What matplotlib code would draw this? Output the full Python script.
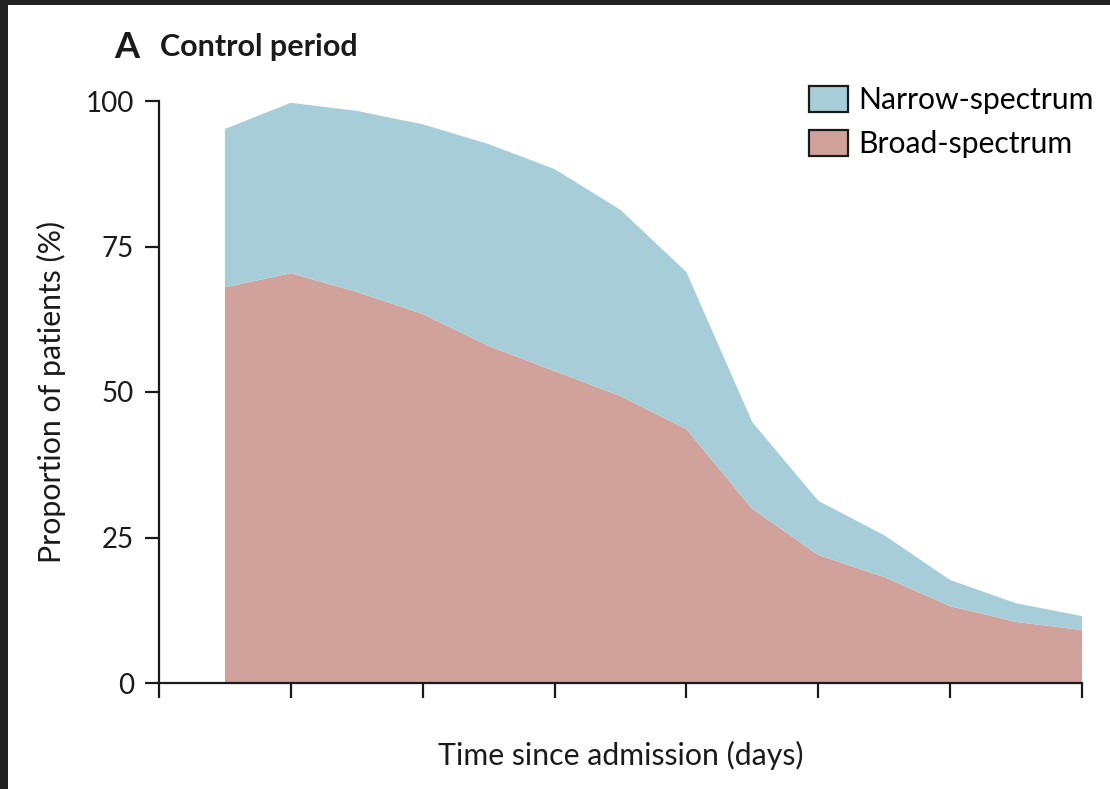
import matplotlib
matplotlib.use("Agg")
import matplotlib.pyplot as plt
from matplotlib.patches import Patch, Rectangle
import numpy as np

plt.rcParams['font.family'] = ['Lato', 'DejaVu Sans']

days = [0.5, 1.0, 1.5, 2.0, 2.5, 3.0, 3.5, 4.0, 4.5, 5.0, 5.5, 6.0, 6.5, 7.0]
broad = [68.0, 70.4, 67.2, 63.4, 57.9, 53.6, 49.3, 43.6, 29.9, 22.0, 18.2, 13.2, 10.5, 9.1]
total = [95.2, 99.7, 98.3, 96.0, 92.6, 88.3, 81.3, 70.6, 44.8, 31.3, 25.4, 17.7, 13.7, 11.5]
narrow = [t - b for t, b in zip(total, broad)]
x_ticks = [0, 1, 2, 3, 4, 5, 6, 7]
y_ticks = [0, 25, 50, 75, 100]
series_names = ["Narrow-spectrum", "Broad-spectrum"]

c_narrow = "#a7ced8"
c_broad = "#d1a29c"
ink = "#1a1a1a"

fig = plt.figure(figsize=(11.10, 7.89), dpi=100)
ax = fig.add_axes([159/1110, 1-683/789, (1082-159)/1110, (683-101)/789])

ax.stackplot(days, broad, narrow, colors=[c_broad, c_narrow], linewidth=0)

ax.set_xlim(0, 7)
ax.set_ylim(0, 100)
ax.set_xticks(x_ticks)
ax.set_xticklabels([])
ax.set_yticks(y_ticks)
ax.set_yticklabels([str(v) for v in y_ticks])
for s in ["top", "right"]:
    ax.spines[s].set_visible(False)
for s in ["left", "bottom"]:
    ax.spines[s].set_linewidth(1.6)
    ax.spines[s].set_color(ink)
    ax.spines[s].set_zorder(5)
ax.tick_params(axis="y", direction="out", length=10, width=1.6, labelsize=20, pad=8, colors=ink)
ax.tick_params(axis="x", direction="out", length=11, width=1.6, colors=ink)
ax.set_xlabel("Time since admission (days)", fontsize=21.8, labelpad=27, color=ink)
ax.set_ylabel("Proportion of patients (%)", fontsize=21.8, labelpad=14, color=ink)

handles = [Patch(facecolor=c_narrow, edgecolor=ink, linewidth=1.6),
           Patch(facecolor=c_broad, edgecolor=ink, linewidth=1.6)]
fig.legend(handles, series_names, loc="upper right", bbox_to_anchor=(1094/1110, 1-86/789),
           frameon=False, fontsize=21.7, handlelength=1.3, handleheight=0.95,
           handletextpad=0.35, labelspacing=0.52, borderaxespad=0, borderpad=0)

fig.text(114/1110, 1-47/789, "A", fontsize=26, fontweight="bold", va="center", ha="left", color=ink)
fig.text(160/1110, 1-47/789, "Control period", fontsize=22, fontweight="bold", va="center", ha="left", color=ink)

# dark frame at top and left edges
fig.patches.append(Rectangle((0, 1-5/789), 1, 5/789, transform=fig.transFigure, facecolor="#222222", edgecolor="none"))
fig.patches.append(Rectangle((0, 0), 8/1110, 1, transform=fig.transFigure, facecolor="#222222", edgecolor="none"))

fig.savefig("out.png", dpi=100)
